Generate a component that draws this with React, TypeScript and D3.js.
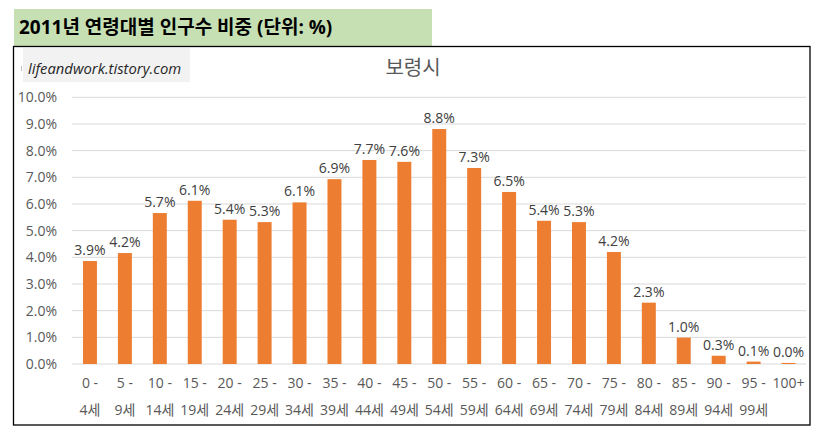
import React from "react";
import * as d3 from "d3";

const categoriesTop = ["0 -", "5 -", "10 -", "15 -", "20 -", "25 -", "30 -", "35 -", "40 -", "45 -", "50 -", "55 -", "60 -", "65 -", "70 -", "75 -", "80 -", "85 -", "90 -", "95 -", "100+"];
const categoriesBottom = ["4세", "9세", "14세", "19세", "24세", "29세", "34세", "39세", "44세", "49세", "54세", "59세", "64세", "69세", "74세", "79세", "84세", "89세", "94세", "99세", ""];
const values = [3.86, 4.16, 5.66, 6.12, 5.41, 5.32, 6.06, 6.93, 7.65, 7.58, 8.81, 7.35, 6.45, 5.37, 5.32, 4.2, 2.3, 0.99, 0.31, 0.09, 0.04];
const yTicks = [0, 1, 2, 3, 4, 5, 6, 7, 8, 9, 10];

const headerText = "2011년 연령대별 인구수 비중 (단위: %)";
const chartTitle = "보령시";
const watermark = "lifeandwork.tistory.com";

const FONT = "'Open Sans', 'Noto Sans CJK KR', sans-serif";

export default function App() {
  const W = 818, H = 435;
  const x = d3.scaleBand<number>().domain(d3.range(values.length)).range([72.5, 806]).paddingInner(0.6).paddingOuter(0.3);
  const y = d3.scaleLinear().domain([0, 10]).range([364, 97.3]);
  const idx = d3.range(values.length);

  return (
    <div style={{ position: "absolute", left: 0, top: 0 }}>
      <svg width={W} height={H} style={{ display: "block", background: "#fff" }}>
        <rect x={14} y={9} width={418} height={37} fill="#c6e0b4" />
        <text x={19} y={33.5} fontFamily={FONT} fontWeight={700} fontSize={19} fill="#000">{headerText}</text>
        <rect x={13.5} y={46.5} width={796.5} height={378.5} fill="#fff" stroke="#000" strokeWidth={1.3} />
        <rect x={23} y={48} width={167} height={34} fill="#f2f2f2" />
        <rect x={21} y={66} width={1} height={5} fill="#bfbfbf" />
        <text x={28} y={74} fontFamily={FONT} fontStyle="italic" fontSize={14.8} fill="#262626">{watermark}</text>
        <text x={413} y={75} textAnchor="middle" fontFamily={FONT} fontSize={20} fill="#595959">{chartTitle}</text>
        {yTicks.map((t) => (
          <g key={t}>
            <line x1={72} x2={806} y1={y(t)} y2={y(t)} stroke="#d9d9d9" strokeWidth={1} />
            <text x={57} y={y(t)} dy="0.35em" textAnchor="end" fontFamily={FONT} fontSize={14} fill="#595959">
              {d3.format(".1f")(t) + "%"}
            </text>
          </g>
        ))}
        {idx.map((i) => (
          <rect key={i} x={x(i)} y={y(values[i])} width={x.bandwidth()} height={y(0) - y(values[i])} fill="#ed7d31" />
        ))}
        {idx.map((i) => (
          <text key={i} x={(x(i) as number) + x.bandwidth() / 2} y={y(values[i]) - 6} textAnchor="middle" fontFamily={FONT} fontSize={14} fill="#404040">
            {d3.format(".1f")(values[i]) + "%"}
          </text>
        ))}
        {idx.map((i) => (
          <g key={i}>
            <text x={(x(i) as number) + x.bandwidth() / 2} y={383} dy="0.35em" textAnchor="middle" fontFamily={FONT} fontSize={14} fill="#595959">
              {categoriesTop[i]}
            </text>
            <text x={(x(i) as number) + x.bandwidth() / 2} y={410} dy="0.35em" textAnchor="middle" fontFamily={FONT} fontSize={14} fill="#595959">
              {categoriesBottom[i]}
            </text>
          </g>
        ))}
      </svg>
    </div>
  );
}
